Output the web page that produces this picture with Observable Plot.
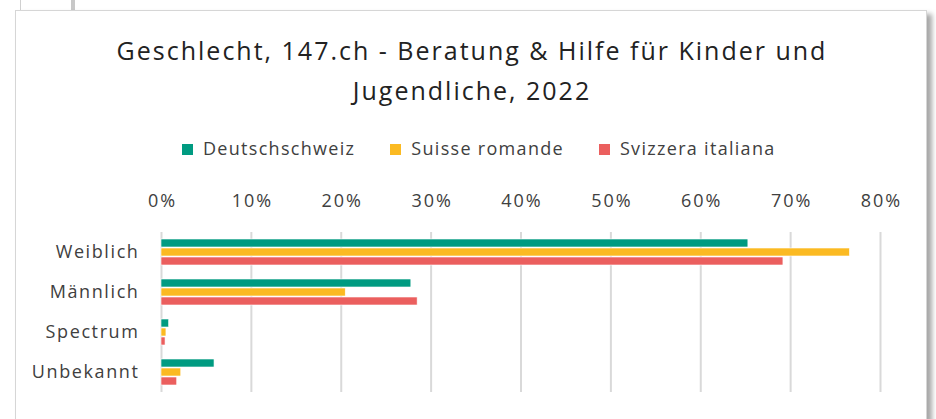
<!DOCTYPE html>
<html>
<head>
<meta charset="utf-8">
<script src="https://cdn.jsdelivr.net/npm/d3@7"></script>
<script src="https://cdn.jsdelivr.net/npm/@observablehq/plot@0.6"></script>
<style>
  html, body { margin: 0; padding: 0; background: #fff; width: 936px; height: 419px; overflow: hidden; font-family: "Open Sans", Lato, sans-serif; }
  #bgwin1 { position: absolute; left: 20px; top: 0; width: 50px; height: 10px; border-left: 1.5px solid #d0d0d0; border-right: 4px solid #c8c8c8; }
  #frame { position: absolute; left: 15px; top: 10px; width: 910px; height: 430px; border: 1.5px solid #d6d6d6; background: #fff; box-shadow: 5px 4px 5px rgba(0,0,0,0.35); }
  #title { position: absolute; left: 0; top: 30px; width: 936px; text-align: center; font-size: 25px; line-height: 40px; color: #222; letter-spacing: 2px; padding-left: 4px; }
  #legend { position: absolute; top: 136px; left: 182px; display: flex; gap: 35px; font-size: 18px; color: #404040; letter-spacing: 1.3px; white-space: nowrap; }
  #legend span.sw { display: inline-block; width: 11px; height: 11px; margin-right: 10px; vertical-align: 0px; }
  #chart { position: absolute; left: 0; top: 170px; }
  #chart g[aria-label="x-axis tick label"] text { letter-spacing: 2px; }
  #chart g[aria-label="fy-axis tick label"] text { letter-spacing: 1.6px; }
</style>
</head>
<body>
<div id="bgwin1"></div>
<div id="frame"></div>
<div id="title">Geschlecht, 147.ch - Beratung &amp; Hilfe für Kinder und<br>Jugendliche, 2022</div>
<div id="legend"></div>
<div id="chart"></div>
<script>
const categories = ["Weiblich", "Männlich", "Spectrum", "Unbekannt"];
const seriesNames = ["Deutschschweiz", "Suisse romande", "Svizzera italiana"];
const seriesColors = ["#009B81", "#FBBA22", "#EB5F5E"];
const deutschschweiz = [65.3, 27.8, 0.85, 5.9];
const suisseRomande = [76.6, 20.5, 0.55, 2.2];
const svizzeraItaliana = [69.2, 28.5, 0.45, 1.75];
const tickValues = [0, 10, 20, 30, 40, 50, 60, 70, 80];

const seriesValues = [deutschschweiz, suisseRomande, svizzeraItaliana];
const data = [];
categories.forEach((c, i) => {
  seriesNames.forEach((s, j) => data.push({category: c, series: s, value: seriesValues[j][i]}));
});

const legend = document.getElementById("legend");
seriesNames.forEach((s, j) => {
  const item = document.createElement("div");
  item.innerHTML = `<span class="sw" style="background:${seriesColors[j]}"></span>${s}`;
  legend.appendChild(item);
});

const chart = Plot.plot({
  width: 936,
  height: 249,
  marginTop: 61,
  marginBottom: 26,
  marginLeft: 161,
  marginRight: 56,
  style: {fontFamily: "'Open Sans', Lato, sans-serif", fontSize: "18px", color: "#404040", background: "transparent"},
  x: {domain: [0, 80], axis: null},
  y: {domain: seriesNames, axis: null, paddingInner: 0.08, paddingOuter: 0.75},
  fy: {domain: categories, padding: 0, label: null},
  color: {domain: seriesNames, range: seriesColors},
  marks: [
    Plot.ruleX(tickValues, {stroke: "#d9d9d9", strokeWidth: 2}),
    Plot.barX(data, {fy: "category", y: "series", x: "value", fill: "series", stroke: "#fff", strokeWidth: 0.6}),
    Plot.axisX(tickValues, {anchor: "top", label: null, tickSize: 0, tickPadding: 26, tickFormat: d => d + "%", fontSize: 18, fill: "#404040", dx: 1}),
    Plot.axisFy({anchor: "left", tickSize: 0, tickPadding: 22, label: null, fontSize: 18, fill: "#404040"})
  ]
});
document.getElementById("chart").appendChild(chart);
</script>
</body>
</html>
